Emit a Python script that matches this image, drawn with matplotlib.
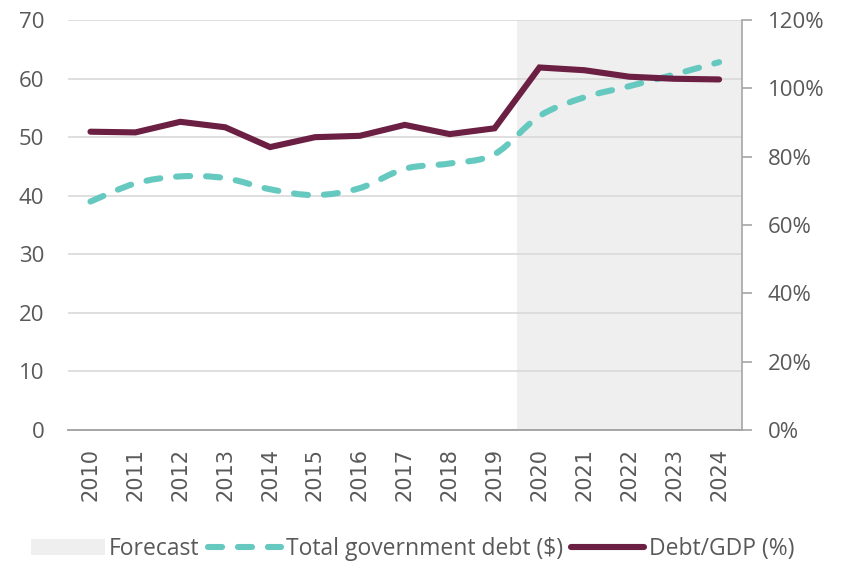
import matplotlib
matplotlib.use("Agg")
import matplotlib.pyplot as plt
import numpy as np
from matplotlib.path import Path
from matplotlib.patches import PathPatch, Patch
from matplotlib.lines import Line2D
import matplotlib.ticker as mticker

years = ["2010", "2011", "2012", "2013", "2014", "2015", "2016", "2017",
         "2018", "2019", "2020", "2021", "2022", "2023", "2024"]
total_debt = [39.0, 42.1, 43.3, 43.0, 41.1, 40.1, 41.3, 44.6, 45.5, 47.1,
              53.6, 56.8, 58.7, 60.7, 62.8]
debt_gdp = [87.3, 87.1, 90.2, 88.6, 82.8, 85.7, 86.1, 89.3, 86.6, 88.3,
            106.1, 105.3, 103.4, 102.8, 102.6]
forecast_from = "2020"

teal = "#66C9C0"
maroon = "#6B1F42"
grey_txt = "#595959"
dash = (0, (2.3, 2.6))

plt.rcParams['font.family'] = ['Open Sans', 'DejaVu Sans']

fig = plt.figure(figsize=(8.44, 5.65), dpi=100)
ax = fig.add_axes([0.0806, 0.239, 0.798, 0.7256])
ax2 = ax.twinx()

x = np.arange(len(years))
fi = years.index(forecast_from)

ax.set_xlim(-0.5, len(years) - 0.5)
ax.set_ylim(0, 70)
ax2.set_ylim(0, 120)

ax.axvspan(fi - 0.5, len(years) - 0.5, color="#EFEFEF", lw=0, zorder=0)
ax.set_yticks(range(0, 71, 10))
ax.grid(axis="y", color="#D9D9D9", lw=1.2, zorder=0.5)
ax.set_axisbelow(True)


# smoothed curve (Excel-style) for total debt, built as cubic beziers
def smooth_path(xs, ys, t=1 / 6):
    verts = [(xs[0], ys[0])]
    codes = [Path.MOVETO]
    n = len(xs)
    for i in range(n - 1):
        p0 = (xs[max(i - 1, 0)], ys[max(i - 1, 0)])
        p1 = (xs[i], ys[i])
        p2 = (xs[i + 1], ys[i + 1])
        p3 = (xs[min(i + 2, n - 1)], ys[min(i + 2, n - 1)])
        c1 = (p1[0] + (p2[0] - p0[0]) * t, p1[1] + (p2[1] - p0[1]) * t)
        c2 = (p2[0] - (p3[0] - p1[0]) * t, p2[1] - (p3[1] - p1[1]) * t)
        verts += [c1, c2, p2]
        codes += [Path.CURVE4] * 3
    return Path(verts, codes)


patch = PathPatch(smooth_path(x, total_debt), fill=False, edgecolor=teal,
                  lw=4.4, linestyle=dash, capstyle="round", zorder=3)
ax.add_patch(patch)

ax2.plot(x, debt_gdp, color=maroon, lw=4.4, solid_capstyle="round",
         solid_joinstyle="miter", zorder=4)

ax.set_xticks(x)
ax.set_xticklabels(years, rotation=90, fontsize=15, color=grey_txt,
                   family="DejaVu Sans")
ax.tick_params(axis="x", length=0, pad=13)
ax.tick_params(axis="y", length=0, labelsize=16, colors=grey_txt, pad=17)
ax2.yaxis.set_major_locator(mticker.MultipleLocator(20))
ax2.yaxis.set_major_formatter(mticker.FuncFormatter(lambda v, p: f"{v:.0f}%"))
ax2.tick_params(axis="y", length=7, width=1.2, color="#A6A6A6",
                labelsize=16, labelcolor=grey_txt, pad=12)

for a in (ax, ax2):
    a.spines["top"].set_visible(False)
    a.spines["left"].set_visible(False)
    a.spines["right"].set_visible(False)
    a.spines["bottom"].set_color("#A6A6A6")
    a.spines["bottom"].set_linewidth(1.2)
ax2.spines["right"].set_visible(True)
ax2.spines["right"].set_color("#A6A6A6")
ax2.spines["right"].set_linewidth(1.2)

handles = [
    Patch(facecolor="#EFEFEF", edgecolor="none", label="Forecast"),
    Line2D([], [], color=teal, lw=4.4, linestyle=dash,
           dash_capstyle="round", label="Total government debt ($)"),
    Line2D([], [], color=maroon, lw=4.4, solid_capstyle="round",
           label="Debt/GDP (%)"),
]
leg = fig.legend(handles=handles, loc="center", bbox_to_anchor=(0.489, 0.028),
                 ncol=3, frameon=False, fontsize=16.5, handlelength=3.2,
                 handletextpad=0.2, columnspacing=0.35, handleheight=0.7)
for t in leg.get_texts():
    t.set_color(grey_txt)

fig.savefig("out.png", dpi=100, facecolor="white")
